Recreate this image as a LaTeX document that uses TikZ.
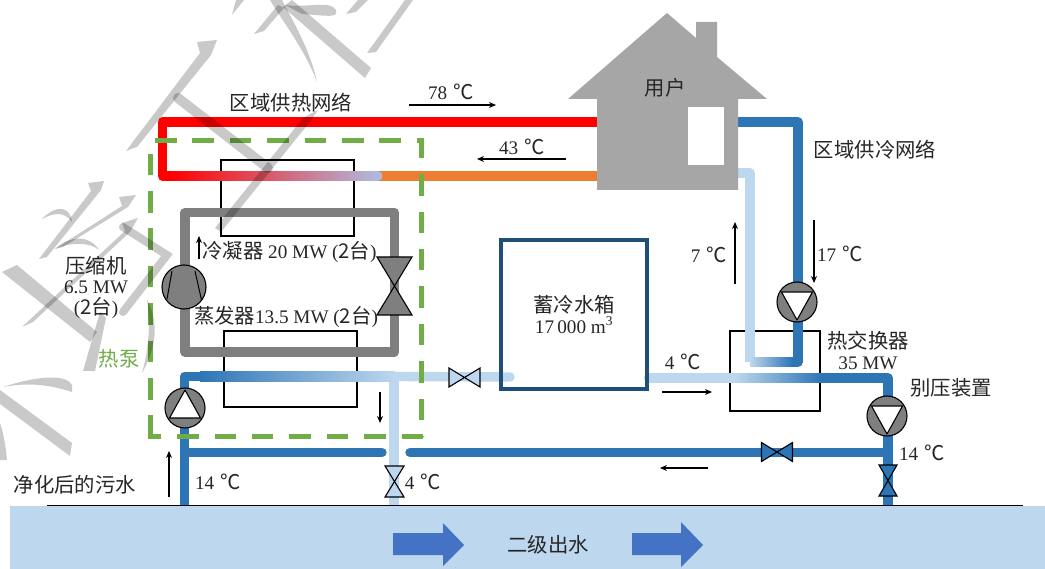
\documentclass[tikz,border=0pt]{standalone}
\usepackage{fontspec}
\setmainfont{Liberation Serif}
\newfontfamily\cj[Scale=1.06]{Noto Sans CJK SC}
\usetikzlibrary{arrows.meta,calc}
\definecolor{pipeblue}{HTML}{2E75B6}
\definecolor{pipelight}{HTML}{BDD7EE}
\definecolor{pipegray}{HTML}{7F7F7F}
\definecolor{pipeorange}{HTML}{ED7D31}
\definecolor{hpgreen}{HTML}{70AD47}
\definecolor{tankblue}{HTML}{1F4E79}
\definecolor{housegray}{HTML}{A6A6A6}
\definecolor{bigarrow}{HTML}{4472C4}
\definecolor{lavender}{HTML}{B0B8DC}
\tikzset{
  pipe/.style={line width=9.4pt,line join=round},
  pipeend/.style={pipe,line cap=round},
  unit/.style={draw=black,line width=1.4pt},
  flow/.style={draw=black,line width=1.4pt,-{Stealth[length=7pt,width=6pt]}},
  lab/.style={inner sep=0pt,font=\fontsize{19.2}{21.5}\selectfont,align=center,text=black!85},
  pumpc/.style={circle,draw=black,line width=1.1pt,fill=pipegray,minimum size=40pt,inner sep=0pt},
  valveline/.style={draw=black,line width=1.1pt,line join=miter},
  hpdash/.style={hpgreen,line width=5pt,dash pattern=on 21.5pt off 15.9pt},
  wm/.style={fill=black,fill opacity=.21,draw=none},
  wml/.style={draw=black,draw opacity=.21,line cap=round},
}
\newcommand{\pumpat}[4]{% name,x,y,dir (+1 up apex, -1 down apex)
  \node[pumpc] (#1) at (#2,#3) {};
  \draw[fill=white,line width=1.1pt,line join=round] ($(#1.center)+(0,{-18*#4})$) -- ($(#1.center)+(15.5,{10*#4})$) -- ($(#1.center)+(-15.5,{10*#4})$) -- cycle;
}
\newcommand{\valveh}[4]{% name,x,y,fill
  \coordinate (#1) at (#2,#3);
  \draw[valveline,fill=#4] ($(#1)+(-15.5,-9.5)$) -- ($(#1)+(15.5,9.5)$) -- ($(#1)+(15.5,-9.5)$) -- ($(#1)+(-15.5,9.5)$) -- cycle;
}
\newcommand{\valvev}[6]{% name,x,y,fill,hw,hh
  \coordinate (#1) at (#2,#3);
  \draw[valveline,fill=#4] ($(#1)+(-#5,-#6)$) -- ($(#1)+(#5,#6)$) -- ($(#1)+(-#5,#6)$) -- ($(#1)+(#5,-#6)$) -- cycle;
}
\begin{document}
\begin{tikzpicture}[x=1pt,y=-1pt]
\useasboundingbox (0,0) rectangle (1045,569);
\fill[white] (0,0) rectangle (1045,569);
% river
\fill[pipelight] (10,506) rectangle (1045,569);
\coordinate (shoreL) at (47,505.5);
\coordinate (shoreR) at (1023,505.5);
\draw[black,line width=1.5pt] (shoreL) -- (shoreR);
% unit boxes
\node[unit,minimum width=133pt,minimum height=76pt,inner sep=0pt] (cond) at (287.5,198) {};
\node[unit,minimum width=133pt,minimum height=76pt,inner sep=0pt] (evap) at (290.5,369) {};
\node[unit,minimum width=90pt,minimum height=80pt,inner sep=0pt] (hx) at (775,371) {};
% coordinates of the pipe network
\coordinate (hL1) at (597,122);
\coordinate (hL2) at (597,176);
\coordinate (hR1) at (738,122);
\coordinate (hR2) at (738,173);
\coordinate (rc1) at (162.5,122);
\coordinate (rc2) at (162.5,176);
\coordinate (orE) at (372,176);
\coordinate (gTL) at (185,212.5);
\coordinate (gTR) at (394.5,212.5);
\coordinate (gBR) at (394.5,352);
\coordinate (gBL) at (185,352);
\coordinate (wL) at (184.5,376.5);
\coordinate (wJ) at (394,376.5);
\coordinate (wE) at (510,377);
\coordinate (wSL) at (184.5,505);
\coordinate (wSR) at (394,505);
\coordinate (retA) at (184.5,452.5);
\coordinate (retB) at (382,452.5);
\coordinate (retC) at (410,452.5);
\coordinate (retD) at (888,452.5);
\coordinate (cR) at (798,122);
\coordinate (cP) at (798,362);
\coordinate (cL) at (750,362);
\coordinate (cU) at (750,173);
\coordinate (tR) at (648.5,378);
\coordinate (xA) at (735,378);
\coordinate (xB) at (822,378);
\coordinate (xC) at (888,378);
\coordinate (xD) at (888,505);
% pipes
\draw[pipe,pipeorange] (orE) -- (hL2);
\draw[pipe,red] (hL1) -- (rc1) -- (rc2) -- ++(8,0);
\fill[left color=red,right color=lavender] (170,171.3) rectangle (375,180.7);
\fill[lavender] (378,176) circle (4.7);
\fill[lavender] (375,171.3) rectangle (378,180.7);
\draw[pipe,pipegray] (gBL) -- (gTL) -- (gTR) -- (gBR) -- cycle;
\draw[pipe,pipelight] (wJ) -- (wSR);
\fill[left color=pipeblue,right color=pipelight] (200,371.8) rectangle (395,381.2);
\draw[pipeend,pipelight] (395,376.5) -- (wE);
\draw[pipe,pipeblue] (wSL) -- (wL) -- (200,376.5);
\draw[pipeend,pipeblue] (retA) -- (retB);
\draw[pipeend,pipeblue] (retC) -- (retD);
\draw[pipe,pipelight] (hR2) -- (cU) -- (cL);
\fill[left color=pipelight,right color=pipeblue] (750,357.3) rectangle (792,366.7);
\draw[pipe,pipeblue] (hR1) -- (cR) -- (cP) -- (792,362);
\draw[pipeend,pipelight] (tR) -- (xA);
\fill[left color=pipelight,right color=pipeblue] (735,373.3) rectangle (822,382.7);
\draw[pipe,pipeblue] (xB) -- (xC) -- (xD);
% heat pump boundary
\draw[hpdash] (155,141) -- (421,141) -- (421,436.5);
\draw[hpdash] (423,436.5) -- (148,436.5);
\draw[hpdash] (150.5,437) -- (150.5,141);
% tank
\node[draw=tankblue,line width=3.5pt,minimum width=146pt,minimum height=149pt,inner sep=0pt] (tank) at (574,314.5) {};
\node[lab] at (tank.center) {\cj 蓄冷水箱\\[-1pt]17\,000 m\textsuperscript{3}};
% house
\fill[housegray] (667,13) -- (696,38) -- (696,22) -- (717,22) -- (717,57) -- (767,99) -- (738,99) -- (738,190) -- (597,190) -- (597,99) -- (568,99) -- cycle;
\fill[white] (688,107) rectangle (724,165);
\node[lab] (user) at (665,88) {\cj 用户};
% compressor
\node[pumpc,minimum size=44pt] (comp) at (184,287) {};
\draw[line width=1pt] (172,271) -- (167,299) (195,271) -- (201.5,300);
% expansion valve
\valvev{expv}{394.5}{286}{pipegray}{17.5}{29}
% pumps
\pumpat{pumpL}{185}{408}{1}
\pumpat{pumpC}{797}{302}{-1}
\pumpat{pumpR}{887}{416}{-1}
% valves
\valveh{vTank}{464.5}{377.5}{pipelight}
\valvev{vDis}{394.5}{481.5}{pipelight}{9.5}{15.5}
\valveh{vRet}{777}{452}{pipeblue}
\valvev{vOut}{888}{480.5}{pipeblue}{9}{15.5}
% river arrows
\fill[bigarrow] (393,533) -- (443,533) -- (443,523) -- (464,545) -- (443,566) -- (443,555) -- (393,555) -- cycle;
\fill[bigarrow] (632,533) -- (681,533) -- (681,522) -- (703,545) -- (681,567) -- (681,555) -- (632,555) -- cycle;
% flow arrows
\coordinate (a1) at (409,105); \coordinate (a2) at (496,105);
\coordinate (b1) at (566,159); \coordinate (b2) at (477,159);
\coordinate (c1) at (735,284); \coordinate (c2) at (735,222);
\coordinate (d1) at (814,220); \coordinate (d2) at (814,283);
\coordinate (e1) at (662,392); \coordinate (e2) at (712,392);
\coordinate (f1) at (708,468); \coordinate (f2) at (660,468);
\coordinate (g1) at (169,497); \coordinate (g2) at (169,451);
\coordinate (h1) at (380,392); \coordinate (h2) at (380,423);
\coordinate (i1) at (199,259); \coordinate (i2) at (199,236);
\draw[flow] (a1) -- (a2);
\draw[flow] (b1) -- (b2);
\draw[flow] (c1) -- (c2);
\draw[flow] (d1) -- (d2);
\draw[flow] (e1) -- (e2);
\draw[flow] (f1) -- (f2);
\draw[flow] (g1) -- (g2);
\draw[flow] (h1) -- (h2);
\draw[flow] (i1) -- (i2);
% labels
\node[lab] (t1) at (291,103) {\cj 区域供热网络};
\node[lab] (t2) at (875,150) {\cj 区域供冷网络};
\node[lab] (t3) at (451,92) {78\,\,{\cj ℃}};
\node[lab] (t4) at (522,147) {43\,\,{\cj ℃}};
\node[lab] (t5) at (709,255) {7\,\,{\cj ℃}};
\node[lab] (t6) at (840,254) {17\,\,{\cj ℃}};
\node[lab] (t7) at (683,362) {4\,\,{\cj ℃}};
\node[lab] (t8) at (922,453) {14\,\,{\cj ℃}};
\node[lab] (t9) at (218,482) {14\,\,{\cj ℃}};
\node[lab] (t10) at (423,482) {4\,\,{\cj ℃}};
\node[lab] (t11) at (75,485) {\cj 净化后的污水};
\node[lab] (t12) at (96,287) {{\cj 压缩机}\\[-1pt]6.5 MW\\[-1pt]({\cj 2台})};
\node[lab,text=hpgreen] (t13) at (119,359) {\cj 热泵};
\node[lab] (t14) at (289.5,252) {{\cj 冷凝器} 20 MW ({\cj 2台})};
\node[lab] (t15) at (286,317) {{\cj 蒸发器}13.5 MW ({\cj 2台})};
\node[lab] (t16) at (868,350.5) {{\cj 热交换器}\\[-1pt]35 MW};
\node[lab] (t17) at (951,388) {\cj 别压装置};
\node[lab] (t18) at (548,545) {\cj 二级出水};
% watermark strokes
\fill[wm] (217,40) -- (197,42) -- (200,53) -- (126,151) -- (137,147) -- (211,55) -- cycle;
\draw[wml,line width=10pt] (178,98) -- (268,168);
\fill[wm] (318,110) -- (303,118) -- (215,228) -- (221,232) -- (309,123) -- cycle;
\fill[wm] (283,7) -- (292,0) -- (371,68) -- (365,78) -- cycle;
\fill[wm] (285,5) .. controls (310,8) and (330,0) .. (336,10) .. controls (338,18) and (330,16) .. (302,14) -- cycle;
\fill[wm] (270,0) -- (282,0) .. controls (295,25) and (310,50) .. (317,82) .. controls (305,50) and (285,25) .. cycle;
\fill[wm] (284,8) -- (278,5) -- (254,34) -- (264,31) -- cycle;
\fill[wm] (244,0) -- (236,0) -- (232,15) -- cycle;
\fill[wm] (413,0) -- (405,0) -- (367,53) -- (376,52) -- cycle;
\fill[wm] (368,0) -- (358,0) -- (346,14) -- (356,12) -- cycle;
\fill[wm] (104,181) -- (88,183) -- (91,191) -- (39,259) -- (47,257) -- (101,190) -- cycle;
\fill[wm] (42,219) .. controls (55,205) and (70,205) .. (72,222) .. controls (65,212) and (55,212) .. cycle;
\fill[wm] (136,195) -- (119,197) -- (122,206) -- (55,249) -- (63,247) -- (128,207) -- cycle;
\fill[wm] (55,249) .. controls (70,235) and (90,235) .. (99,250) .. controls (90,242) and (70,242) .. cycle;
\fill[wm] (138,218) -- (122,223) -- (125,231) -- (22,327) -- (33,322) -- (130,232) -- cycle;
\fill[wm] (2,272) -- (17,265) -- (97,332) -- (90,342) -- cycle;
\fill[wm] (100,312) -- (83,371) -- (95,371) -- (106,318) -- cycle;
\draw[wml,line width=8pt] (123,227) -- (167,255) -- (123,312);
\fill[wm] (147,300) .. controls (158,320) and (158,345) .. (142,373) .. controls (150,345) and (150,320) .. cycle;
\fill[wm] (3,387) .. controls (30,378) and (65,372) .. (72,385) -- (72,392) .. controls (50,385) and (30,382) .. cycle;
\fill[wm] (0,390) -- (72,443) -- (70,456) -- (0,404) -- cycle;
\fill[wm] (0,423) .. controls (4,435) and (6,448) .. (7,460) -- (0,460) -- cycle;
\end{tikzpicture}
\end{document}
